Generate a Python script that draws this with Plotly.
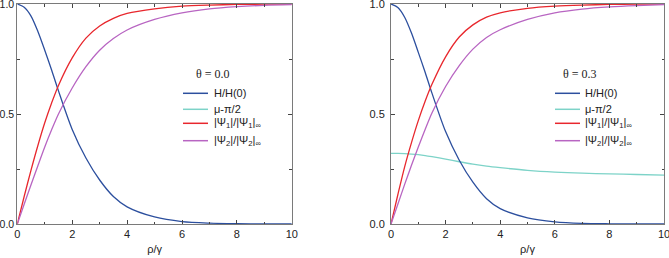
import plotly.graph_objects as go

W, H_PX = 669, 258

# ---- data ----
rho = [0, 0.25, 0.5, 0.75, 1, 1.25, 1.5, 2, 2.5, 3, 3.5, 4, 5, 6, 7, 8, 9, 10]

# theta = 0.0 panel
h_left = [1.0, 0.985, 0.945, 0.875, 0.79, 0.70, 0.605, 0.43, 0.30, 0.20, 0.125, 0.078, 0.032, 0.011, 0.004, 0.0015, 0.0005, 0.0002]
psi1_left = [0.0, 0.125, 0.245, 0.357, 0.46, 0.55, 0.63, 0.755, 0.845, 0.90, 0.935, 0.957, 0.978, 0.99, 0.995, 0.998, 0.999, 1.0]
psi2_left = [0.0, 0.09, 0.178, 0.265, 0.35, 0.428, 0.50, 0.618, 0.715, 0.79, 0.843, 0.882, 0.93, 0.96, 0.978, 0.988, 0.994, 0.997]

# theta = 0.3 panel
h_right = [1.0, 0.984, 0.94, 0.868, 0.78, 0.69, 0.595, 0.42, 0.29, 0.19, 0.115, 0.07, 0.028, 0.01, 0.003, 0.001, 0.0004, 0.0001]
mu_right = [0.321, 0.321, 0.320, 0.318, 0.315, 0.311, 0.306, 0.295, 0.283, 0.272, 0.263, 0.256, 0.244, 0.236, 0.231, 0.228, 0.225, 0.222]
psi1_right = [0.0, 0.133, 0.26, 0.37, 0.47, 0.558, 0.635, 0.76, 0.85, 0.905, 0.94, 0.96, 0.98, 0.99, 0.995, 0.998, 0.999, 1.0]
psi2_right = [0.0, 0.09, 0.18, 0.267, 0.35, 0.43, 0.505, 0.625, 0.72, 0.795, 0.848, 0.883, 0.93, 0.96, 0.977, 0.987, 0.993, 0.997]

x_ticks = [0, 2, 4, 6, 8, 10]
y_ticks = [0.0, 0.5, 1.0]
theta_labels = ["θ = 0.0", "θ = 0.3"]
legend_names = ["H/H(0)", "μ-π/2", "|Ψ<sub>1</sub>|/|Ψ<sub>1</sub>|<sub>∞</sub>", "|Ψ<sub>2</sub>|/|Ψ<sub>2</sub>|<sub>∞</sub>"]

C_BLUE = "#2c4f9e"
C_CYAN = "#7dd3c8"
C_RED = "#e8272d"
C_PURPLE = "#b865c2"
colors = [C_BLUE, C_CYAN, C_RED, C_PURPLE]

fig = go.Figure()

def add(x, y, color, xa, ya):
    fig.add_trace(go.Scatter(x=x, y=y, mode="lines", xaxis=xa, yaxis=ya,
                             line=dict(color=color, width=1.3, shape="spline", smoothing=0.8),
                             showlegend=False, hoverinfo="skip"))

add(rho, h_left, C_BLUE, "x", "y")
add(rho, psi1_left, C_RED, "x", "y")
add(rho, psi2_left, C_PURPLE, "x", "y")
add(rho, mu_right, C_CYAN, "x2", "y2")
add(rho, h_right, C_BLUE, "x2", "y2")
add(rho, psi1_right, C_RED, "x2", "y2")
add(rho, psi2_right, C_PURPLE, "x2", "y2")

FONT = "Liberation Sans, Arial, sans-serif"
FRAME = "#7a7a7a"

def xaxis(domain, anchor):
    return dict(domain=domain, anchor=anchor, range=[0, 10], tickvals=x_ticks,
                ticks="inside", ticklen=4, tickcolor="#444", tickwidth=1,
                showline=True, linecolor=FRAME, linewidth=1, mirror="allticks",
                showgrid=False, zeroline=False, automargin=False, ticklabeloverflow="allow",
                minor=dict(dtick=1, ticks="inside", ticklen=2.5, tickcolor="#444", showgrid=False),
                tickfont=dict(family=FONT, size=11, color="#222"),
                title=dict(text="ρ/γ", font=dict(family=FONT, size=11, color="#222"), standoff=6))

def yaxis(domain, anchor, standoff, fsize):
    return dict(domain=domain, anchor=anchor, range=[0, 1], tickvals=y_ticks, tickformat=".1f",
                ticks="inside", ticklen=4, tickcolor="#444", tickwidth=1,
                showline=True, linecolor=FRAME, linewidth=1, mirror="allticks",
                showgrid=False, zeroline=False, automargin=False, ticklabeloverflow="allow",
                minor=dict(dtick=0.25, ticks="inside", ticklen=2.5, tickcolor="#444", showgrid=False),
                tickfont=dict(family=FONT, size=fsize, color="#222"), ticklabelstandoff=standoff)

yd = [(H_PX - 224) / H_PX, 1 - 4 / H_PX]
fig.update_layout(
    width=W, height=H_PX,
    margin=dict(l=0, r=0, t=0, b=0, autoexpand=False),
    paper_bgcolor="white", plot_bgcolor="white",
    xaxis=xaxis([17.3 / W, 291.8 / W], "y"),
    yaxis=yaxis(yd, "x", 0, 10.5),
    xaxis2=xaxis([391 / W, 664 / W], "y2"),
    yaxis2=yaxis(yd, "x2", 3, 11),
    showlegend=False,
)

def px(x):
    return x / W

def py(y):
    return 1 - y / H_PX

# manual legends
legend_specs = [
    dict(title_x=213, title_y=73.5, line_x0=183, line_x1=208, text_x=211.5),
    dict(title_x=580, title_y=74, line_x0=555, line_x1=580, text_x=583),
]
row_y = [93.3, 109.3, 123.3, 140.7]
for k, spec in enumerate(legend_specs):
    fig.add_annotation(x=px(spec["title_x"]), y=py(spec["title_y"]), xref="paper", yref="paper",
                       text=theta_labels[k], showarrow=False, xanchor="center", yanchor="middle",
                       font=dict(family="Liberation Serif, Times New Roman, serif", size=12, color="#222"))
    for i, name in enumerate(legend_names):
        yy = row_y[i]
        fig.add_shape(type="line", xref="paper", yref="paper",
                      x0=px(spec["line_x0"]), x1=px(spec["line_x1"]), y0=py(yy), y1=py(yy),
                      line=dict(color=colors[i], width=1.5))
        fig.add_annotation(x=px(spec["text_x"]), y=py(yy), xref="paper", yref="paper",
                           text=name, showarrow=False, xanchor="left", yanchor="middle",
                           font=dict(family=FONT, size=11, color="#222"))

fig.write_html("out.html", config={"displayModeBar": False},
               post_script="document.body.style.margin='0';document.body.style.overflow='hidden';")
